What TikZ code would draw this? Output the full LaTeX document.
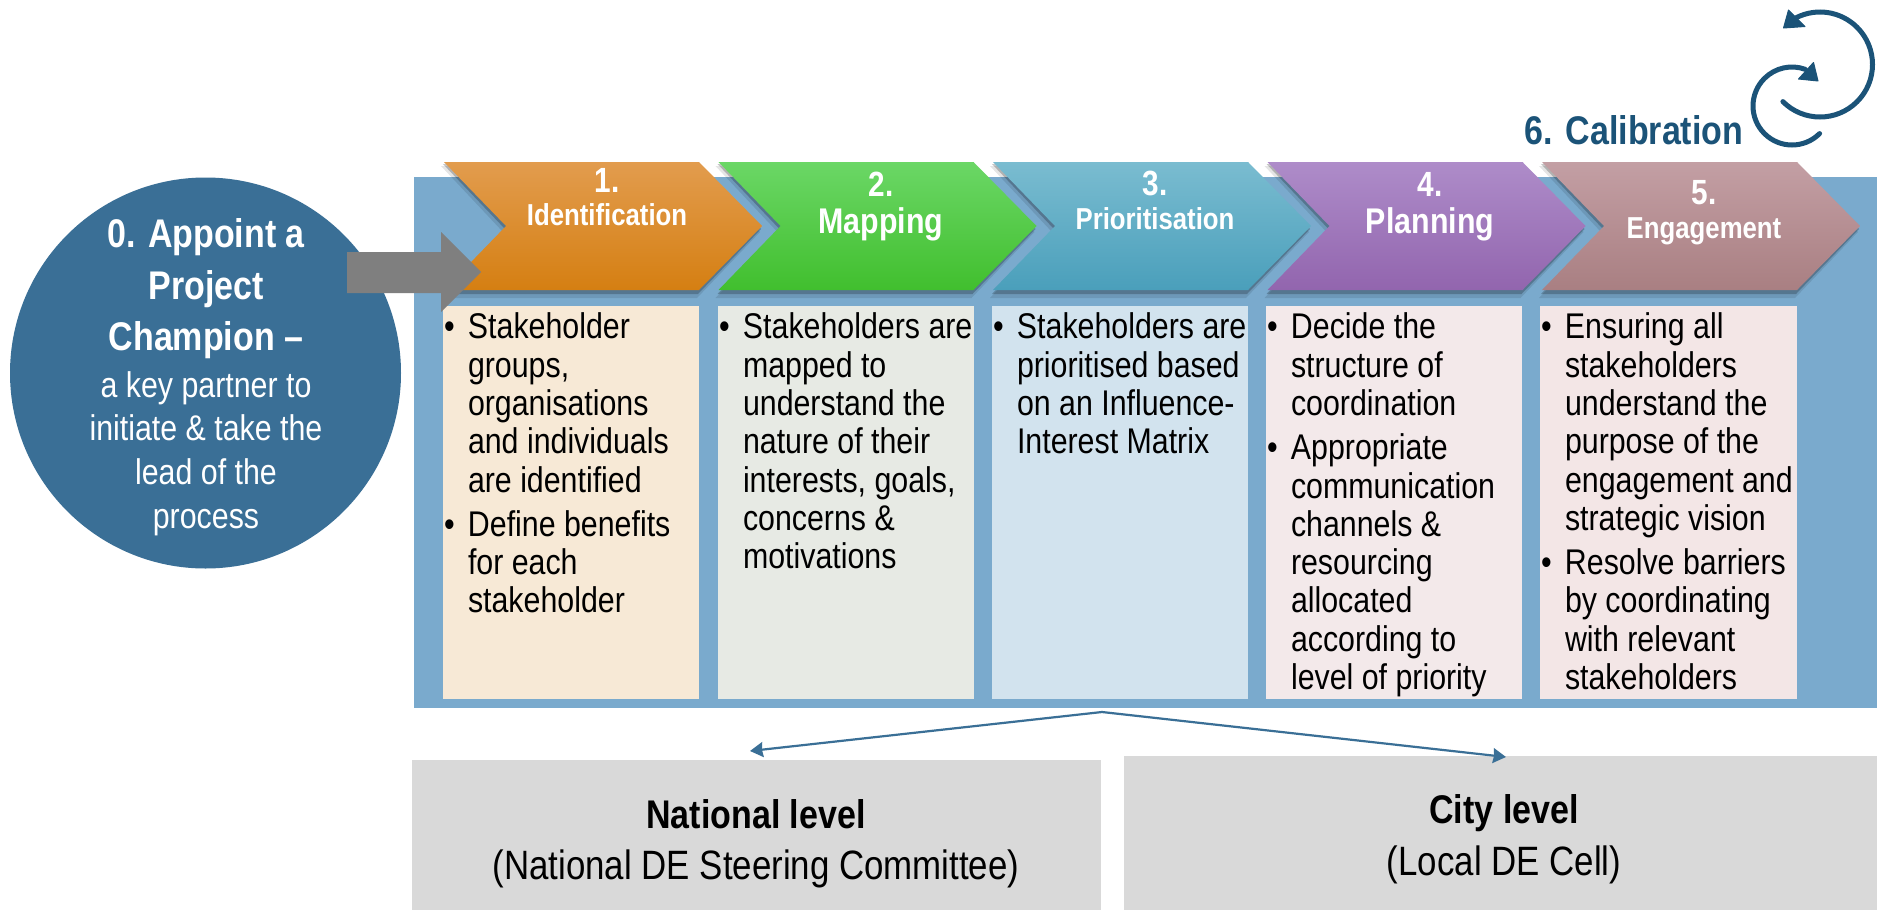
\documentclass[tikz,border=0pt]{standalone}
\usepackage{fontspec}
\usetikzlibrary{arrows.meta}
\setmainfont{Liberation Sans}[FakeStretch=0.85]
\definecolor{bgblue}{HTML}{7AAACD}
\definecolor{circblue}{HTML}{3A6F96}
\definecolor{navy}{HTML}{1B5378}
\definecolor{boxa}{HTML}{F7E9D6}
\definecolor{boxb}{HTML}{E7EAE4}
\definecolor{boxc}{HTML}{D2E3EE}
\definecolor{boxd}{HTML}{F3E9EA}
\definecolor{boxe}{HTML}{F3E6E6}
\definecolor{lvlgray}{HTML}{D9D9D9}
\definecolor{arrgray}{HTML}{7F7F7F}
\definecolor{chaT}{HTML}{E29C4E}\definecolor{chaB}{HTML}{D57F12}
\definecolor{chbT}{HTML}{6BD766}\definecolor{chbB}{HTML}{41BF2E}
\definecolor{chcT}{HTML}{7ABCD0}\definecolor{chcB}{HTML}{4A9FBB}
\definecolor{chdT}{HTML}{AE8CC9}\definecolor{chdB}{HTML}{9265AE}
\definecolor{cheT}{HTML}{C39FA4}\definecolor{cheB}{HTML}{A97F82}
\newcommand{\fs}[1]{\fontsize{#1}{#1}\selectfont}
\newcommand{\fl}{\rule{0pt}{24pt}}
\newcommand{\bu}{\makebox[24pt][l]{•}}
\newcommand{\ind}{\hspace*{24pt}}
\tikzset{
  x=1pt,y=-1pt,
  panel/.style={fill=#1,draw=none,anchor=north west,inner sep=0pt,outer sep=0pt},
  bodytext/.style={anchor=north west,inner sep=0pt,outer sep=0pt,align=left,font=\fs{35.7}\setlength{\baselineskip}{38.3pt}},
  headnum/.style={anchor=base,inner sep=0pt,text=white,font=\fs{35}\bfseries},
  headbig/.style={anchor=base,inner sep=0pt,text=white,font=\fs{35.7}\bfseries},
  headsmall/.style={anchor=base,inner sep=0pt,text=white,font=\fs{30.3}\bfseries},
  circbold/.style={anchor=base,inner sep=0pt,text=white,font=\fs{40}\bfseries},
  circreg/.style={anchor=base,inner sep=0pt,text=white,font=\fs{35.7}},
  lvlbold/.style={anchor=base,inner sep=0pt,font=\fs{40}\bfseries},
  lvlreg/.style={anchor=base,inner sep=0pt,font=\fs{41}},
  conn/.style={draw=circblue,line width=2.2pt,-{Stealth[length=13pt,width=15pt,inset=1pt]}},
  icon/.style={draw=navy,line width=5pt,line cap=round},
}
\newcommand{\chev}[3]{%
  \fill[black,opacity=.10] (#1-3,166) -- ++(256,0) -- ++(63,66) -- ++(-63,66) -- ++(-256,0) -- ++(62,-66) -- cycle;
  \fill[black,opacity=.22] (#1-1,164) -- ++(255,0) -- ++(63,65) -- ++(-63,65) -- ++(-255,0) -- ++(62,-65) -- cycle;
  \shade[top color=#2,bottom color=#3] (#1,162) -- ++(255,0) -- ++(63,64) -- ++(-63,64) -- ++(-255,0) -- ++(62,-64) -- cycle;
}
\begin{document}
\begin{tikzpicture}
\useasboundingbox (0,0) rectangle (1877,910);
\fill[white] (0,0) rectangle (1877,910);
% background panel
\node[panel=bgblue,minimum width=1463pt,minimum height=531pt] (bg) at (414,177) {};
% content boxes
\node[panel=boxa,minimum width=256pt,minimum height=393pt] (boxA) at (443,306) {};
\node[panel=boxb,minimum width=256pt,minimum height=393pt] (boxB) at (718,306) {};
\node[panel=boxc,minimum width=256pt,minimum height=393pt] (boxC) at (992,306) {};
\node[panel=boxd,minimum width=256pt,minimum height=393pt] (boxD) at (1266,306) {};
\node[panel=boxe,minimum width=257pt,minimum height=393pt] (boxE) at (1540,306) {};
% chevrons
\chev{444}{chaT}{chaB}
\chev{718.5}{chbT}{chbB}
\chev{993}{chcT}{chcB}
\chev{1267.5}{chdT}{chdB}
\chev{1542}{cheT}{cheB}
% chevron labels
\node[headnum] (n1) at (607,192) {1.};
\node[headsmall] (t1) at (607,225) {Identification};
\node[headnum] (n2) at (881,196) {2.};
\node[headbig] (t2) at (881,233) {Mapping};
\node[headnum] (n3) at (1155,195) {3.};
\node[headsmall] (t3) at (1155,229) {Prioritisation};
\node[headnum] (n4) at (1430,196) {4.};
\node[headbig] (t4) at (1430,233) {Planning};
\node[headnum] (n5) at (1704,204) {5.};
\node[headsmall] (t5) at (1704,238) {Engagement};
% body text
\node[bodytext] (a) at (444,313) {\fl\bu Stakeholder\\\ind groups,\\\ind organisations\\\ind and individuals\\\ind are identified\\[6pt]\bu Define benefits\\\ind for each\\\ind stakeholder};
\node[bodytext] (b) at (719,313) {\fl\bu Stakeholders are\\\ind mapped to\\\ind understand the\\\ind nature of their\\\ind interests, goals,\\\ind concerns \&\\\ind motivations};
\node[bodytext] (c) at (993,313) {\fl\bu Stakeholders are\\\ind prioritised based\\\ind on an Influence-\\\ind Interest Matrix};
\node[bodytext] (d) at (1267,313) {\fl\bu Decide the\\\ind structure of\\\ind coordination\\[6pt]\bu Appropriate\\\ind communication\\\ind channels \&\\\ind resourcing\\\ind allocated\\\ind according to\\\ind level of priority};
\node[bodytext] (e) at (1541,313) {\fl\bu Ensuring all\\\ind stakeholders\\\ind understand the\\\ind purpose of the\\\ind engagement and\\\ind strategic vision\\[6pt]\bu Resolve barriers\\\ind by coordinating\\\ind with relevant\\\ind stakeholders};
% circle
\node[circle,fill=circblue,draw=none,minimum size=391pt,inner sep=0pt] (circ) at (205.5,373) {};
\node[circbold] (c1) at (206,247) {0. Appoint a};
\node[circbold] (c2) at (206,299) {Project};
\node[circbold] (c3) at (206,350) {Champion –};
\node[circreg] (c4) at (206,397) {a key partner to};
\node[circreg] (c5) at (206,440) {initiate \& take the};
\node[circreg] (c6) at (206,484) {lead of the};
\node[circreg] (c7) at (206,528) {process};
% gray block arrow
\fill[arrgray] (347,252) -- (441,252) -- (441,232) -- (481,272) -- (441,312) -- (441,293) -- (347,293) -- cycle;
% level boxes
\node[panel=lvlgray,minimum width=689pt,minimum height=150pt] (nat) at (412,760) {};
\node[panel=lvlgray,minimum width=753pt,minimum height=154pt] (city) at (1124,756) {};
\node[lvlbold] (natb) at (756,828) {National level};
\node[lvlreg] (natr) at (756,879) {(National DE Steering Committee)};
\node[lvlbold] (cityb) at (1504,823) {City level};
\node[lvlreg] (cityr) at (1504,875) {(Local DE Cell)};
% connectors
\coordinate (apex) at (1102,712);
\coordinate (natend) at (750,751);
\coordinate (cityend) at (1506,757);
\draw[conn] (apex) -- (natend);
\draw[conn] (apex) -- (cityend);
% calibration
\node[anchor=base,inner sep=0pt,text=navy,font=\fs{40}\bfseries] (cal) at (1634,144) {6. Calibration};
\draw[icon] (1820,64.5) ++(135:52.5) arc[start angle=135,end angle=-117,radius=52.5];
\fill[navy,draw=navy,line width=1pt,line join=round] (1788.5,10) -- (1783.5,28) -- (1805,26.5) -- cycle;
\draw[icon] (1792,106) ++(45:39) arc[start angle=45,end angle=290,radius=39];
\fill[navy,draw=navy,line width=1pt,line join=round] (1813.5,62.5) -- (1818,81) -- (1798.5,79) -- cycle;
\end{tikzpicture}
\end{document}
